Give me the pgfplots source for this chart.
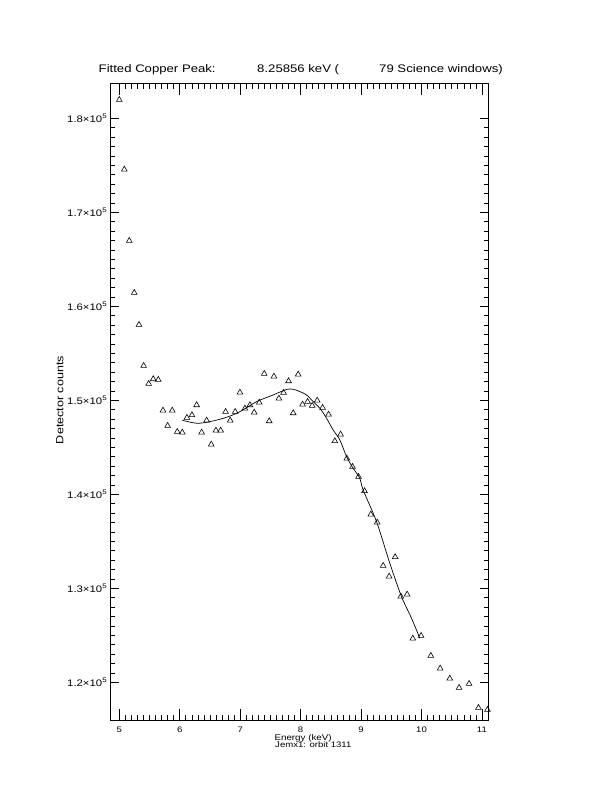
\documentclass[border=0pt]{standalone}
\usepackage{fontspec}
\setmainfont{Liberation Sans}[FakeStretch=1.2]
\usepackage{pgfplots}
\pgfplotsset{compat=1.18}
\usetikzlibrary{backgrounds}

\begin{document}
\begin{tikzpicture}
\begin{axis}[
    scale only axis, width=377.3bp, height=637.4bp,
    xmin=4.858, xmax=11.10, ymin=115910, ymax=183720,
    xtick={5,6,...,11}, xticklabels={5,6,7,8,9,10,11},
    minor x tick num=9,
    ytick={120000,130000,...,180000},
    yticklabels={1.2×10\textsuperscript{5},1.3×10\textsuperscript{5},1.4×10\textsuperscript{5},1.5×10\textsuperscript{5},1.6×10\textsuperscript{5},1.7×10\textsuperscript{5},1.8×10\textsuperscript{5}},
    minor y tick num=9,
    scaled y ticks=false,
    tick align=inside,
    axis line style={line width=0.8bp},
    every tick/.style={black, line width=0.6bp},
    xtick style={/pgfplots/major tick length=12bp, /pgfplots/minor tick length=6bp},
    ytick style={/pgfplots/major tick length=8bp, /pgfplots/minor tick length=4.5bp},
    xticklabel style={font=\fontsize{8}{9}\selectfont, anchor=base, yshift=-11.6bp},
    yticklabel style={font=\fontsize{9.5}{11}\selectfont},
    clip=false,
]
% measured spectrum
\addplot[only marks, mark=triangle, mark size=3.3bp,
    mark options={line width=0.6bp, yshift=-0.8bp}] coordinates {
    (5.000,182053) (5.083,174638) (5.165,167053) (5.248,161522) (5.326,158117)
    (5.403,153756) (5.486,151841) (5.562,152341) (5.645,152267) (5.723,149001)
    (5.800,147373) (5.876,149001) (5.959,146735) (6.042,146661) (6.119,148224)
    (6.202,148512) (6.280,149575) (6.362,146661) (6.445,147937) (6.521,145384)
    (6.599,146873) (6.677,146873) (6.759,148862) (6.835,147937) (6.918,148862)
    (6.996,150916) (7.078,149214) (7.161,149575) (7.232,148788) (7.315,149852)
    (7.398,152905) (7.480,147873) (7.558,152618) (7.641,150277) (7.718,150884)
    (7.801,152128) (7.877,148724) (7.960,152831) (8.032,149639) (8.115,149926)
    (8.191,149501) (8.274,150065) (8.363,149288) (8.462,148575) (8.566,145746)
    (8.661,146448) (8.765,143895) (8.859,143012) (8.958,141948) (9.058,140427)
    (9.162,137937) (9.266,137086) (9.365,132480) (9.464,131342) (9.564,133406)
    (9.658,129214) (9.762,129427) (9.856,124746) (9.993,125033) (10.154,122906)
    (10.308,121555) (10.468,120491) (10.622,119502) (10.787,119927) (10.942,117374)
    (11.091,117161)
};
% fitted peak
\addplot[line width=0.7bp, smooth, no marks] coordinates {
    (6.042,147873) (6.280,147554) (6.500,147724) (6.776,148192) (6.996,148788)
    (7.272,149852) (7.546,150565) (7.768,151150) (7.877,151171) (7.988,150916)
    (8.099,150565) (8.208,149852) (8.318,149150) (8.429,148086) (8.538,146841)
    (8.649,145778) (8.760,144001) (8.869,142767) (8.980,141703) (9.034,140458)
    (9.256,137086) (9.476,132661) (9.669,129108) (9.835,126810) (9.972,124682)
};
\coordinate (ll) at (rel axis cs:0,0);
\node[anchor=base west, font=\fontsize{11}{13}\selectfont] at ([xshift=-15.5bp, yshift=10.6bp]rel axis cs:0,1) {Fitted Copper Peak:};
\node[anchor=base west, font=\fontsize{11}{13}\selectfont] at ([xshift=143bp, yshift=10.6bp]rel axis cs:0,1) {8.25856 keV (};
\node[anchor=base west, font=\fontsize{11}{13}\selectfont] at ([xshift=265bp, yshift=10.6bp]rel axis cs:0,1) {79 Science windows)};
\node[anchor=base west, font=\fontsize{8.2}{9}\selectfont] at ([xshift=160.3bp, yshift=-19.6bp]rel axis cs:0,0) {Energy (keV)};
\node[anchor=base west, font=\fontsize{8}{9}\selectfont] at ([xshift=161bp, yshift=-27.2bp]rel axis cs:0,0) {Jemx1: orbit 1311};
\node[anchor=base, rotate=90, font=\fontsize{10.5}{12}\selectfont] at ([xshift=-47.4bp]rel axis cs:0,0.503) {Detector counts};
\end{axis}
\pgfresetboundingbox
\path[use as bounding box] ([shift={(-110.7bp,-71.3bp)}]ll) rectangle ++(612bp,792bp);
\begin{scope}[on background layer]
\fill[white] ([shift={(-110.7bp,-71.3bp)}]ll) rectangle ++(612bp,792bp);
\end{scope}
\end{tikzpicture}
\end{document}
